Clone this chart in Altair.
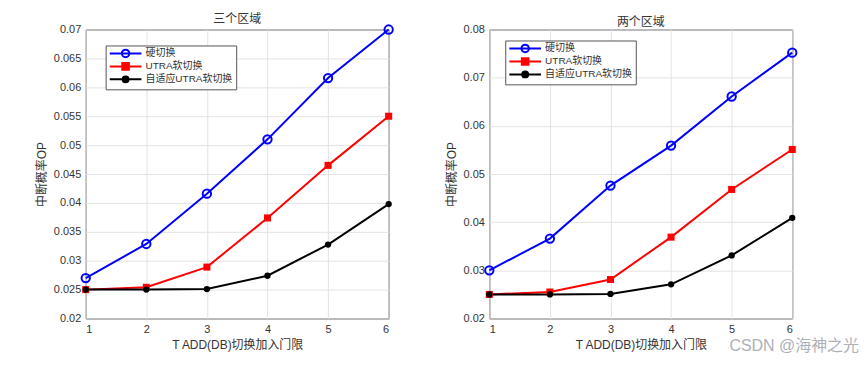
import altair as alt
import pandas as pd

x_vals = [1, 2, 3, 4, 5, 6]
series_names = ["硬切换", "UTRA软切换", "自适应UTRA软切换"]

three_hard = [0.0270, 0.0329, 0.0416, 0.0510, 0.0616, 0.0700]
three_utra = [0.0250, 0.0254, 0.0289, 0.0374, 0.0465, 0.0550]
three_adapt = [0.0250, 0.0250, 0.0251, 0.0274, 0.0328, 0.0398]

two_hard = [0.0300, 0.0366, 0.0476, 0.0559, 0.0661, 0.0752]
two_utra = [0.0250, 0.0255, 0.0281, 0.0369, 0.0468, 0.0551]
two_adapt = [0.0250, 0.0250, 0.0251, 0.0271, 0.0331, 0.0409]

y_ticks_three = [0.02, 0.025, 0.03, 0.035, 0.04, 0.045, 0.05, 0.055, 0.06, 0.065, 0.07]
y_ticks_two = [0.02, 0.03, 0.04, 0.05, 0.06, 0.07, 0.08]

colors = ["#0000ff", "#ff0000", "#000000"]
legend_fills = ["#ffffff", "#ff0000", "#000000"]
legend_paths = [
    "M-5.3,0H5.3M-1.25,0A1.25,1.25,0,1,1,1.25,0A1.25,1.25,0,1,1,-1.25,0",
    "M-5.3,0H5.3M-1.1,-1.1H1.1V1.1H-1.1Z",
    "M-5.3,0H5.3M-1,0A1,1,0,1,1,1,0A1,1,0,1,1,-1,0",
]
marker_specs = [
    ("硬切换", "#0000ff", "circle", 70, False),
    ("UTRA软切换", "#ff0000", "square", 50, True),
    ("自适应UTRA软切换", "#000000", "circle", 40, True),
]

FONT = "Liberation Sans, Noto Sans CJK SC"


def make_df(a, b, c):
    rows = []
    for name, vals in zip(series_names, [a, b, c]):
        for xv, v in zip(x_vals, vals):
            rows.append({"x": xv, "value": v, "series": name})
    return pd.DataFrame(rows)


def panel(title, df, ydom, yvals, lx, ly, extra=None):
    base = alt.Chart(df)
    x = alt.X("x:Q", scale=alt.Scale(domain=[1, 6], nice=False),
              axis=alt.Axis(values=x_vals, format="d", title="T ADD(DB)切换加入门限"))
    y = alt.Y("value:Q", scale=alt.Scale(domain=ydom, nice=False, zero=False),
              axis=alt.Axis(values=yvals, format="~g", title="中断概率OP"))
    layers = []
    for name, col, shape, size, filled in marker_specs:
        sub = base.transform_filter(alt.datum.series == name)
        layers.append(sub.mark_line(strokeWidth=2, color=col).encode(x=x, y=y))
    for name, col, shape, size, filled in marker_specs:
        sub = base.transform_filter(alt.datum.series == name)
        if filled:
            m = sub.mark_point(shape=shape, size=size, filled=True, color=col, opacity=1)
        else:
            m = sub.mark_point(shape=shape, size=size, filled=False, color=col, strokeWidth=2, opacity=1)
        layers.append(m.encode(x=x, y=y))
    L = alt.Legend(title=None, orient="none", legendX=lx, legendY=ly, symbolSize=36,
                   symbolStrokeWidth=2, symbolOffset=12, labelOffset=15, labelFontSize=10,
                   symbolOpacity=1,
                   labelFont=FONT, labelColor="#333333", padding=3, strokeColor="#555555",
                   fillColor="white", rowPadding=-3)
    leg = base.mark_point(filled=True, strokeWidth=2, opacity=0).encode(
        x=x, y=y,
        shape=alt.Shape("series:N", scale=alt.Scale(domain=series_names, range=legend_paths), legend=L),
        stroke=alt.Stroke("series:N", scale=alt.Scale(domain=series_names, range=colors), legend=L),
        fill=alt.Fill("series:N", scale=alt.Scale(domain=series_names, range=legend_fills), legend=L),
    )
    layers.append(leg)
    if extra is not None:
        layers.append(extra)
    return alt.layer(*layers).properties(
        width=304, height=290,
        title=alt.TitleParams(title, fontSize=12, fontWeight="normal", font=FONT, color="#333333",
                              offset=0, dy=5),
    )


df3 = make_df(three_hard, three_utra, three_adapt)
df2 = make_df(two_hard, two_utra, two_adapt)

watermark = alt.Chart(pd.DataFrame({"t": ["CSDN @海神之光"]})).mark_text(
    align="right", baseline="middle", fontSize=16, font=FONT, color="#9ea3ab", opacity=0.85
).encode(text="t:N", x=alt.value(371), y=alt.value(318))

left = panel("三个区域", df3, [0.02, 0.07], y_ticks_three, 20, 16)
right = panel("两个区域", df2, [0.02, 0.08], y_ticks_two, 16, 11, extra=watermark)

chart = alt.hconcat(left, right, spacing=40).resolve_scale(
    shape="independent", stroke="independent", fill="independent"
).resolve_legend(
    shape="independent", stroke="independent", fill="independent"
).properties(
    padding={"left": 26, "top": 4, "right": 0, "bottom": 0}
).configure_view(
    stroke="#262626", strokeWidth=1
).configure_axis(
    grid=True, gridColor="#e3e3e3", gridWidth=1, domain=False, ticks=False,
    labelFont=FONT, labelFontSize=11, labelColor="#333333", labelPadding=5,
    titleFont=FONT, titleFontSize=12, titleFontWeight="normal", titleColor="#333333",
    titlePadding=5,
)

chart.save("out.html", embed_options={"renderer": "svg", "actions": False})
